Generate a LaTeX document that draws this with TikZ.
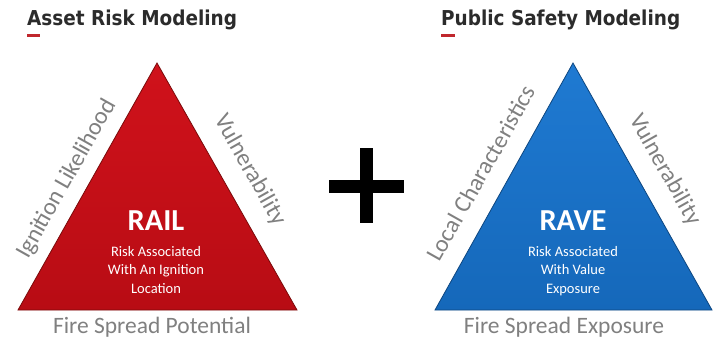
\documentclass[tikz,border=0pt]{standalone}
\usepackage{fontspec}
\setmainfont{Carlito}
\newfontfamily\titlefont{DejaVu Sans Condensed}
\usetikzlibrary{calc}
\definecolor{titlegray}{HTML}{2B2B2B}
\definecolor{labelgray}{HTML}{808080}
\definecolor{accentred}{HTML}{C0272D}
\definecolor{redtop}{HTML}{D0121B}
\definecolor{redbot}{HTML}{B80C14}
\definecolor{rededge}{HTML}{7A0A0A}
\definecolor{bluetop}{HTML}{1F7AD2}
\definecolor{bluebot}{HTML}{1568BA}
\definecolor{blueedge}{HTML}{0D4680}
\tikzset{
  titletext/.style={font=\titlefont\bfseries\fontsize{20.5bp}{24bp}\selectfont, text=titlegray, inner sep=0pt, anchor=base west},
  accent/.style={draw=accentred, line width=3bp},
  sidelabel/.style={font=\fontsize{24bp}{28bp}\selectfont, text=labelgray, inner sep=0pt},
  baselabel/.style={font=\fontsize{23.5bp}{28bp}\selectfont, text=labelgray, inner sep=0pt, anchor=base},
  bigname/.style={font=\bfseries\fontsize{30.5bp}{33bp}\selectfont, text=white, inner sep=0pt, anchor=base},
  desc/.style={font=\fontsize{14.5bp}{18.5bp}\selectfont, text=white, inner sep=0pt, anchor=north, align=center},
  redtri/.style={top color=redtop, bottom color=redbot, draw=rededge, line width=0.8bp, line join=miter},
  bluetri/.style={top color=bluetop, bottom color=bluebot, draw=blueedge, line width=0.8bp, line join=miter},
}
\begin{document}
\begin{tikzpicture}[x=1bp,y=-1bp]
\useasboundingbox (0,0) rectangle (719,353);

% titles
\node[titletext] (t1) at (27,25) {Asset Risk Modeling};
\node[titletext] (t2) at (441,25) {Public Safety Modeling};
\coordinate (u1a) at (27,35); \coordinate (u1b) at (40,35);
\coordinate (u2a) at (441,35); \coordinate (u2b) at (455,35);
\draw[accent] (u1a) -- (u1b);
\draw[accent] (u2a) -- (u2b);

% left triangle
\coordinate (La) at (157,63);
\coordinate (Lb) at (18,310);
\coordinate (Lc) at (297,310);
\path[redtri] (La) -- (Lb) -- (Lc) -- cycle;

% right triangle
\coordinate (Ra) at (573,63);
\coordinate (Rb) at (435,310);
\coordinate (Rc) at (712,310);
\path[bluetri] (Ra) -- (Rb) -- (Rc) -- cycle;

% plus sign
\coordinate (ph1) at (329,180); \coordinate (ph2) at (404,193);
\coordinate (pv1) at (360,148); \coordinate (pv2) at (373,223);
\fill[black] (ph1) rectangle (ph2);
\fill[black] (pv1) rectangle (pv2);

% left labels
\node[sidelabel, rotate=60.6] (il) at (67,179) {Ignition Likelihood};
\node[sidelabel, rotate=-60.6] (v1) at (250,170) {Vulnerability};
\node[baselabel] (fsp) at (152,333) {Fire Spread Potential};
\node[bigname] (rail) at (156,230) {RAIL};
\node[desc] (raild) at (156,246) {Risk Associated\\With An Ignition\\Location};

% right labels
\node[sidelabel, rotate=60.6] (lc) at (481,173) {Local Characteristics};
\node[sidelabel, rotate=-60.6] (v2) at (665,170) {Vulnerability};
\node[baselabel] (fse) at (564,333) {Fire Spread Exposure};
\node[bigname] (rave) at (573,230) {RAVE};
\node[desc] (raved) at (573,246) {Risk Associated\\With Value\\Exposure};
\end{tikzpicture}
\end{document}
